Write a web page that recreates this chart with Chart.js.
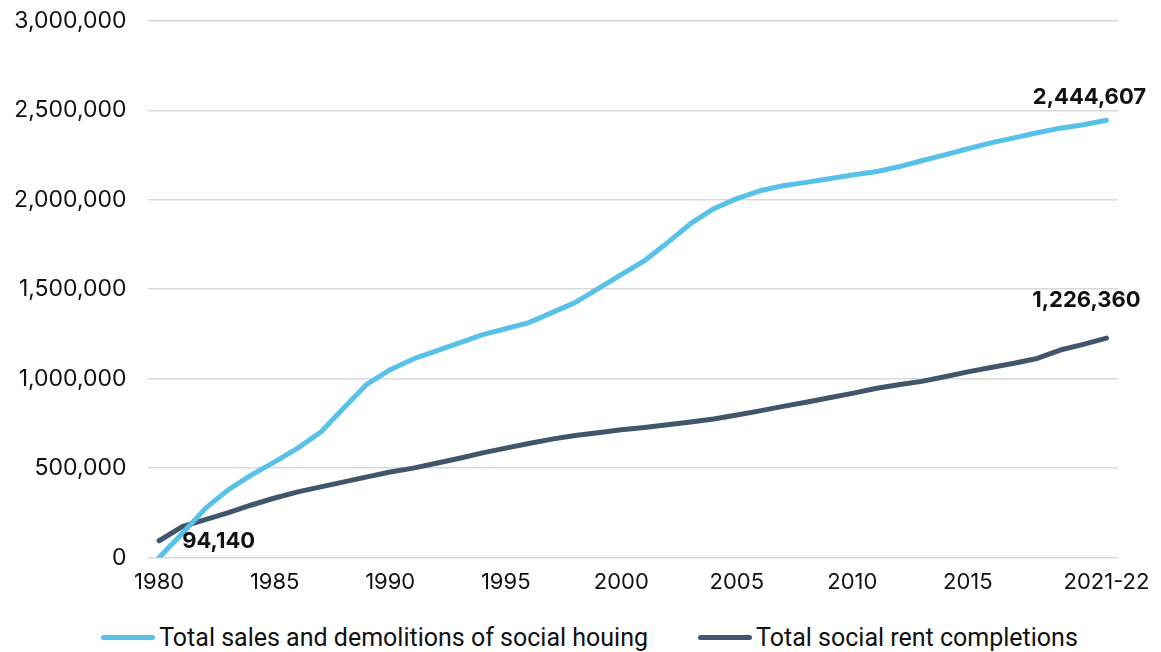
<!DOCTYPE html>
<html>
<head>
<meta charset="utf-8">
<script src="https://cdn.jsdelivr.net/npm/chart.js@4"></script>
<style>
  html, body { margin: 0; padding: 0; background: #fff; }
  #wrap { position: relative; width: 1161px; height: 652px; overflow: hidden; }
  #box { position: absolute; left: 0; top: -14px; width: 1161px; height: 614px; }
  #legend {
    position: absolute; left: 18px; right: 0; top: 622px; height: 30px;
    display: flex; justify-content: center; align-items: center;
    font-family: Roboto, "DejaVu Sans", sans-serif; font-size: 25px; color: #111;
  }
  .item { display: flex; align-items: center; margin: 0 25px; white-space: nowrap; }
  .swatch { width: 54px; height: 5px; border-radius: 3px; margin-right: 4px; }
</style>
</head>
<body>
<div id="wrap">
  <div id="box"><canvas id="chart"></canvas></div>
  <div id="legend"></div>
</div>
<script>
// categories (annual, last one is a financial year)
const years = [
  "1980", "1981", "1982", "1983", "1984", "1985", "1986", "1987", "1988", "1989",
  "1990", "1991", "1992", "1993", "1994", "1995", "1996", "1997", "1998", "1999",
  "2000", "2001", "2002", "2003", "2004", "2005", "2006", "2007", "2008", "2009",
  "2010", "2011", "2012", "2013", "2014", "2015", "2016", "2017", "2018", "2019",
  "2020", "2021-22"
];

// labels shown on the x axis
const shownYears = ["1980", "1985", "1990", "1995", "2000", "2005", "2010", "2015", "2021-22"];

// cumulative sales and demolitions of social housing
const salesDemolitions = [
  0, 135000, 275000, 380000, 462000, 535000, 612000, 702000, 838000, 970000,
  1050000, 1110000, 1155000, 1200000, 1246000, 1279000, 1313000, 1369000, 1425000, 1503000,
  1581000, 1659000, 1760000, 1866000, 1950000, 2006000, 2050000, 2078000, 2097000, 2117000,
  2138000, 2156000, 2184000, 2218000, 2251000, 2285000, 2318000, 2346000, 2374000, 2400000,
  2419000, 2444607
];

// cumulative social rent completions
const socialRentCompletions = [
  94140, 173000, 212000, 251000, 294000, 333000, 367000, 395000, 423000, 451000,
  478000, 500000, 527000, 555000, 585000, 612000, 638000, 662000, 682000, 698000,
  714000, 727000, 742000, 758000, 775000, 797000, 820000, 845000, 868000, 893000,
  918000, 945000, 966000, 985000, 1011000, 1038000, 1062000, 1086000, 1113000, 1160000,
  1192000, 1226360
];

const seriesNames = [
  "Total sales and demolitions of social houing",
  "Total social rent completions"
];

const fmt = (v) => v.toLocaleString("en-US");

// draw the value labels next to chosen points
const pointLabels = {
  id: "pointLabels",
  afterDatasetsDraw(chart) {
    const ctx = chart.ctx;
    const marks = [
      { ds: 1, i: 0, dx: 23, dy: 1, align: "left" },
      { ds: 0, i: years.length - 1, dx: -17, dy: -23, align: "center" },
      { ds: 1, i: years.length - 1, dx: -20, dy: -38, align: "center" }
    ];
    ctx.save();
    ctx.font = "bold 22px Inter, 'DejaVu Sans', sans-serif";
    ctx.fillStyle = "#111";
    ctx.textBaseline = "middle";
    marks.forEach((m) => {
      const pt = chart.getDatasetMeta(m.ds).data[m.i];
      const value = chart.data.datasets[m.ds].data[m.i];
      ctx.textAlign = m.align;
      ctx.fillText(fmt(value), pt.x + m.dx, pt.y + m.dy);
    });
    ctx.restore();
  }
};

// html legend built from the datasets
const htmlLegend = {
  id: "htmlLegend",
  afterUpdate(chart) {
    const el = document.getElementById("legend");
    el.innerHTML = "";
    chart.data.datasets.forEach((ds) => {
      const item = document.createElement("div");
      item.className = "item";
      const sw = document.createElement("span");
      sw.className = "swatch";
      sw.style.background = ds.borderColor;
      const txt = document.createElement("span");
      txt.textContent = ds.label;
      item.appendChild(sw);
      item.appendChild(txt);
      el.appendChild(item);
    });
  }
};

const ctx = document.getElementById("chart").getContext("2d");

new Chart(ctx, {
  type: "line",
  data: {
    labels: years,
    datasets: [
      {
        label: seriesNames[0],
        data: salesDemolitions,
        borderColor: "#58C1E8",
        backgroundColor: "#58C1E8",
        borderWidth: 5,
        borderCapStyle: "round",
        borderJoinStyle: "round",
        pointRadius: 0,
        tension: 0
      },
      {
        label: seriesNames[1],
        data: socialRentCompletions,
        borderColor: "#41566A",
        backgroundColor: "#41566A",
        borderWidth: 5,
        borderCapStyle: "round",
        borderJoinStyle: "round",
        pointRadius: 0,
        tension: 0
      }
    ]
  },
  options: {
    responsive: true,
    maintainAspectRatio: false,
    animation: false,
    layout: {
      padding: { top: 0, right: 43, left: -7, bottom: 0 }
    },
    plugins: {
      legend: { display: false },
      tooltip: { enabled: false }
    },
    scales: {
      x: {
        offset: true,
        grid: { display: false },
        border: { display: false },
        ticks: {
          autoSkip: false,
          maxRotation: 0,
          padding: 4,
          color: "#111",
          font: { family: "Inter, 'DejaVu Sans', sans-serif", size: 22 },
          callback: function (val, index) {
            return shownYears.includes(years[index]) ? years[index] : null;
          }
        }
      },
      y: {
        min: 0,
        max: 3000000,
        border: { display: false },
        grid: { color: "#d9d9d9", lineWidth: 1.5, drawTicks: false },
        ticks: {
          stepSize: 500000,
          padding: 21,
          color: "#111",
          font: { family: "Inter, 'DejaVu Sans', sans-serif", size: 23 },
          callback: (v) => fmt(v)
        }
      }
    }
  },
  plugins: [pointLabels, htmlLegend]
});
</script>
</body>
</html>
